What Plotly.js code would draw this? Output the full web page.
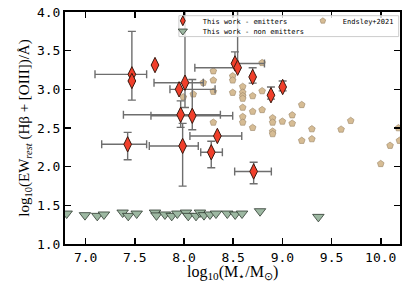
<!DOCTYPE html>
<html><head><meta charset="utf-8">
<script src="https://cdn.plot.ly/plotly-3.0.1.min.js"></script>
<style>html,body{margin:0;padding:0;background:#fff}#c{width:407px;height:291px}</style>
</head><body><div id="c"></div>
<script>
// This work - emitters
const emX = [7.47, 7.47, 7.705, 7.95, 8.01, 7.966, 8.084, 8.518, 8.545, 8.698, 8.884, 9.003, 7.427, 7.986, 8.339, 8.277, 8.708];
const emY = [3.194, 3.108, 3.314, 3.0, 3.086, 2.671, 2.658, 3.335, 3.28, 3.16, 2.924, 3.03, 2.289, 2.268, 2.397, 2.186, 1.938];
const emXerrMinus = [0.375, 0, 0, 0.093, 0.315, 0.582, 0.42, 0.02, 0.435, 0, 0, 0, 0.264, 0.339, 0.279, 0.107, 0.193];
const emXerrPlus  = [0.15, 0, 0, 0.366, 0.186, 0.404, 0.411, 0.30, 0.0, 0, 0, 0, 0.193, 0.159, 0.248, 0.113, 0.18];
const emYerrMinus = [0, 0.248, 0, 0, 0.32, 0.163, 0.18, 0, 0, 0.08, 0.05, 0.05, 0.2, 0.519, 0, 0.2, 0.158];
const emYerrPlus  = [0.556, 0, 0, 0, 1.4, 0.18, 0.47, 0.15, 1.3, 0.12, 0.106, 0.078, 0.154, 0.292, 0, 0.142, 0.12];

// This work - non emitters
const neX = [6.807, 6.993, 7.118, 7.186, 7.376, 7.433, 7.519, 7.705, 7.72, 7.806, 7.875, 7.932, 8.02, 8.043, 8.122, 8.162, 8.203, 8.264, 8.325, 8.44, 8.52, 8.59, 8.773, 9.366];
const neY = [1.394, 1.373, 1.364, 1.382, 1.407, 1.364, 1.394, 1.407, 1.37, 1.382, 1.364, 1.394, 1.407, 1.364, 1.364, 1.407, 1.373, 1.382, 1.394, 1.394, 1.382, 1.394, 1.424, 1.351];

// Endsley+2021
const enX = [8.794, 8.298, 8.495, 8.495, 8.298, 8.196, 8.597, 8.298, 8.495, 8.794, 8.597, 8.698, 8.597, 8.597, 8.094, 7.993, 9.197, 8.597, 8.698, 8.794, 9.10, 8.901, 8.597, 8.901, 9.0, 9.10, 8.298, 9.695, 8.597, 8.698, 9.30, 9.597, 10.18, 8.901, 8.901, 9.197, 9.30, 10.095, 10.19, 10.0];
const enY = [3.343, 3.236, 3.172, 3.117, 3.117, 3.086, 3.035, 2.971, 2.958, 2.979, 2.96, 2.915, 2.915, 2.881, 2.937, 2.90, 2.80, 2.765, 2.713, 2.735, 2.667, 2.629, 2.645, 2.572, 2.585, 2.559, 2.572, 2.594, 2.572, 2.504, 2.487, 2.482, 2.50, 2.456, 2.423, 2.337, 2.358, 2.273, 2.337, 2.037];

const xTicks = [7.0, 7.5, 8.0, 8.5, 9.0, 9.5, 10.0];
const yTicks = [1.0, 1.5, 2.0, 2.5, 3.0, 3.5, 4.0];

const legFont = {family: 'DejaVu Sans Mono', size: 7, color: '#000'};
const emMarker = {symbol: 'diamond-tall', color: '#f03f2b', line: {color: '#3a1a10', width: 1}};
const neMarker = {symbol: 'triangle-down', color: '#9db8a2', line: {color: '#2f3a30', width: 0.8}};
const enMarker = {symbol: 'pentagon', color: '#d6bc94', line: {color: '#9a8466', width: 0.6}};

const traces = [
  {x: enX, y: enY, type: 'scatter', mode: 'markers', name: 'Endsley+2021', showlegend: false,
   marker: Object.assign({size: 7}, enMarker)},
  {x: neX, y: neY, type: 'scatter', mode: 'markers', name: 'This work - non emitters', showlegend: false,
   marker: Object.assign({size: 10}, neMarker)},
  {x: emX, y: emY, type: 'scatter', mode: 'markers', name: 'This work - emitters', showlegend: false,
   error_x: {type: 'data', symmetric: false, array: emXerrPlus, arrayminus: emXerrMinus, color: '#6e6e6e', thickness: 1.4, width: 4},
   error_y: {type: 'data', symmetric: false, array: emYerrPlus, arrayminus: emYerrMinus, color: '#6e6e6e', thickness: 1.4, width: 4},
   marker: Object.assign({size: 11}, emMarker)},
  // legend entries
  {x: [null], y: [null], type: 'scatter', mode: 'markers', name: 'This work - emitters', legend: 'legend',
   marker: Object.assign({size: 7}, emMarker)},
  {x: [null], y: [null], type: 'scatter', mode: 'markers', name: 'This work - non emitters', legend: 'legend2',
   marker: Object.assign({size: 8}, neMarker)},
  {x: [null], y: [null], type: 'scatter', mode: 'markers', name: 'Endsley+2021', legend: 'legend3',
   marker: Object.assign({size: 6}, enMarker)}
];

const axisCommon = {
  showgrid: false, zeroline: false, showline: true, linecolor: '#000', linewidth: 2,
  mirror: 'ticks', ticks: 'inside', ticklen: 6, tickwidth: 1.6, tickcolor: '#000',
  tickfont: {family: 'DejaVu Sans Mono', size: 13, color: '#000'}, tickformat: '.1f'
};

const legCommon = {xanchor: 'left', yanchor: 'middle', bgcolor: 'rgba(0,0,0,0)', borderwidth: 0, font: legFont, itemwidth: 30};

const layout = {
  width: 407, height: 291,
  margin: {l: 65, r: 7, t: 11, b: 47},
  paper_bgcolor: '#fff', plot_bgcolor: '#fff',
  xaxis: Object.assign({}, axisCommon, {range: [6.79, 10.196], tickvals: xTicks}),
  yaxis: Object.assign({}, axisCommon, {range: [1, 4], tickvals: yTicks,
    title: {text: 'log<sub>10</sub>(EW<sub><i>rest</i></sub> (Hβ + [OIII])/Å)', font: {family: 'Liberation Serif', size: 15, color: '#000'}, standoff: 4}}),
  annotations: [{text: 'log<sub>10</sub>(M<sub>⋆</sub>/M<sub>⊙</sub>)', xref: 'paper', yref: 'paper', x: 0.5, y: -0.1245,
    xanchor: 'center', yanchor: 'middle', showarrow: false, font: {family: 'Liberation Serif', size: 16, color: '#000'}}],
  showlegend: true,
  legend: Object.assign({x: 0.292, y: 0.958}, legCommon),
  legend2: Object.assign({x: 0.292, y: 0.914}, legCommon),
  legend3: Object.assign({x: 0.710, y: 0.958}, legCommon),
  shapes: [{type: 'rect', xref: 'paper', yref: 'paper', x0: 0.340, x1: 0.996, y0: 0.894, y1: 0.984,
    fillcolor: 'rgba(255,255,255,0.8)', line: {color: '#cccccc', width: 1}, layer: 'above'}]
};

Plotly.newPlot('c', traces, layout, {displayModeBar: false, staticPlot: true});
</script></body></html>
